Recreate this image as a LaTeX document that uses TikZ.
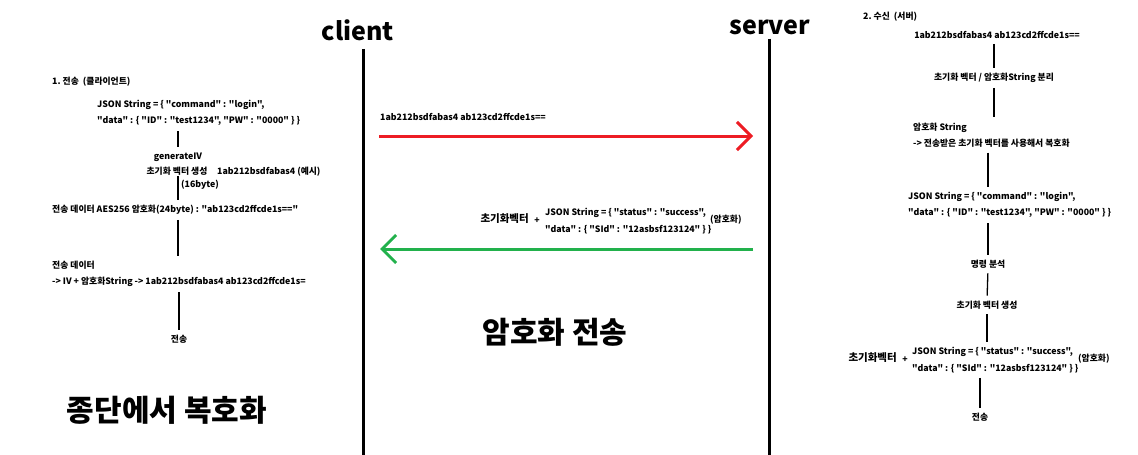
\documentclass[tikz,border=0pt]{standalone}
\usepackage{fontspec}
\setmainfont{Noto Sans CJK KR}[Ligatures=TeXOff]
\usetikzlibrary{arrows.meta, positioning, calc}

\begin{document}
\begin{tikzpicture}[x=1pt, y=-1pt,
    txt/.style={inner sep=0pt, font=\fontsize{8.8}{16.5}\selectfont\bfseries},
    ivtxt/.style={inner sep=0pt, font=\fontsize{10.5}{12}\selectfont\bfseries},
    head/.style={inner sep=0pt, font=\fontsize{25}{28}\selectfont\bfseries},
    big/.style={inner sep=0pt, font=\fontsize{30}{34}\selectfont\bfseries},
    link/.style={line width=1.3pt, shorten <=5pt, shorten >=5pt},
    life/.style={line width=3pt},
    msg/.style={line width=3pt, -{Straight Barb[length=14pt, width=28pt, line width=3pt]}},
]
    \useasboundingbox (0,0) rectangle (1138,455);

    % client / server
    \node[head] (client) at (358,30) {client};
    \node[head] (server) at (770,27) {server};
    \coordinate (cbot) at (363,455);
    \coordinate (sbot) at (769,455);
    \draw[life, shorten <=8pt] (client.south -| cbot) -- (cbot);
    \draw[life, shorten <=4pt] (server.south -| sbot) -- (sbot);

    % messages
    \coordinate (reqS) at (379,136);
    \coordinate (reqE) at (753,136);
    \draw[msg, draw={rgb,255:red,237;green,28;blue,36}] (reqS) -- (reqE);
    \node[txt, anchor=west] (reqlbl) at (380,117) {1ab212bsdfabas4 ab123cd2ffcde1s==};

    \coordinate (resS) at (753,249);
    \coordinate (resE) at (380,249);
    \draw[msg, draw={rgb,255:red,34;green,177;blue,76}] (resS) -- (resE);
    \node[ivtxt, anchor=east] (resiv) at (529,219) {초기화벡터};
    \node[txt] (resplus) at (537,221) {+};
    \node[txt, anchor=west, align=left] (resjson) at (545,221) {JSON String = \{ "status" : "success",\\"data" : \{ "SId" : "12asbsf123124" \} \}};
    \node[txt, anchor=west] (resenc) at (710,220) {(암호화)};

    \node[big] (mid) at (555,332) {암호화 전송};
    \node[big] (endtxt) at (167,410) {종단에서 복호화};

    % 1. client side
    \node[txt, anchor=west] (c_title) at (52,82) {1.\ 전송\ \ (클라이언트)};
    \node[txt, anchor=west, align=left] (c_json) at (97,113) {JSON String = \{ "command" : "login",\\"data" : \{ "ID" : "test1234", "PW" : "0000" \} \}};
    \node[txt] (c_gen) at (178,157) {generateIV};
    \node[txt] (c_ivgen) at (177,171) {초기화 벡터 생성};
    \node[txt, anchor=west] (c_ivex) at (217,172) {1ab212bsdfabas4 (예시)};
    \node[txt, anchor=west] (c_16) at (181,185) {(16byte)};
    \node[txt, anchor=west] (c_enc) at (52,210) {전송 데이터 AES256 암호화(24byte) : "ab123cd2ffcde1s=="};
    \node[txt, anchor=west, align=left] (c_data) at (52,274) {전송 데이터\\-> IV + 암호화String -> 1ab212bsdfabas4 ab123cd2ffcde1s=};
    \node[txt] (c_send) at (179,339) {전송};

    \draw[link] (c_json.south -| c_gen) -- (c_gen.north);
    \draw[link, shorten <=1pt] (c_ivgen.south -| c_gen) -- (c_gen |- c_enc.north);
    \draw[link] (c_gen |- c_enc.south) -- (c_gen |- c_data.north);
    \draw[link] (c_data.south -| c_send) -- (c_send.north);

    % 2. server side
    \node[txt, anchor=west] (s_title) at (863,17) {2.\ 수신\ \ (서버)};
    \node[txt] (s_recv) at (997,35) {1ab212bsdfabas4 ab123cd2ffcde1s==};
    \node[txt] (s_split) at (994,78) {초기화 벡터 / 암호화String 분리};
    \node[txt, anchor=west, align=left] (s_dec) at (913,135) {암호화 String\\-> 전송받은 초기화 벡터를 사용해서 복호화};
    \node[txt, anchor=west, align=left] (s_json) at (908,205) {JSON String = \{ "command" : "login",\\"data" : \{ "ID" : "test1234", "PW" : "0000" \} \}};
    \node[txt] (s_cmd) at (988,264) {명령 분석};
    \node[txt] (s_ivgen) at (987,305) {초기화 벡터 생성};
    \node[ivtxt, anchor=east] (s_iv) at (897,358) {초기화벡터};
    \node[txt] (s_plus) at (905,360) {+};
    \node[txt, anchor=west, align=left] (s_resjson) at (912,360) {JSON String = \{ "status" : "success",\\"data" : \{ "SId" : "12asbsf123124" \} \}};
    \node[txt, anchor=west] (s_enc) at (1078,359) {(암호화)};
    \node[txt] (s_send) at (980,417) {전송};

    \draw[link] (s_recv.south -| s_split) -- (s_split.north);
    \draw[link] (s_split.south) -- (s_split |- s_dec.north);
    \draw[link] (s_dec.south -| s_cmd) -- (s_cmd |- s_json.north);
    \draw[link] (s_json.south -| s_cmd) -- (s_cmd.north);
    \draw[link] (s_cmd.south) -- (s_ivgen.north);
    \draw[link] (s_ivgen.south) -- (s_ivgen |- s_resjson.north);
    \draw[link] (s_resjson.south -| s_send) -- (s_send.north);
\end{tikzpicture}
\end{document}
